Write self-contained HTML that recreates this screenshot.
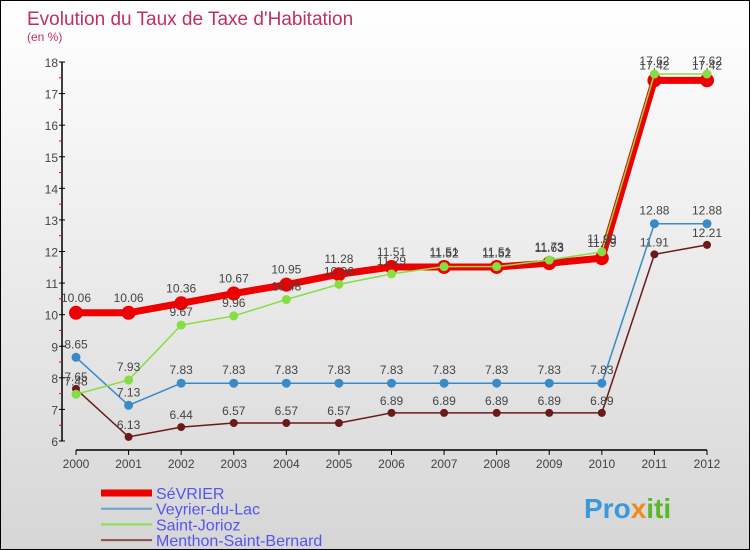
<!DOCTYPE html>
<html><head><meta charset="utf-8"><style>
body{margin:0}
#c{width:750px;height:550px;position:relative;background:linear-gradient(#ffffff,#d6d6d6);box-sizing:border-box;border:1px solid #000;font-family:"Liberation Sans",sans-serif}
</style></head><body>
<div id="c">
<svg id="s" width="748" height="548" style="position:absolute;left:0;top:0" font-family="Liberation Sans, sans-serif">
<text x="26" y="24" font-size="19" fill="#c0305f">Evolution du Taux de Taxe d'Habitation</text>
<text x="26" y="40" font-size="12" fill="#c0305f">(en %)</text>
<g id="ax"></g><g id="series"></g><g id="legend"></g>
<text x="583" y="517" font-size="28" font-weight="bold" fill="#3a9ad9">Pro<tspan fill="#f08a1a">x</tspan><tspan fill="#5cb82a">iti</tspan></text>
</svg>
</div>
<script>
const years=[2000,2001,2002,2003,2004,2005,2006,2007,2008,2009,2010,2011,2012];
const sevrier=[10.06,10.06,10.36,10.67,10.95,11.28,11.51,11.51,11.51,11.63,11.79,17.42,17.42];
const veyrier=[8.65,7.13,7.83,7.83,7.83,7.83,7.83,7.83,7.83,7.83,7.83,12.88,12.88];
const jorioz=[7.48,7.93,9.67,9.96,10.48,10.96,11.29,11.52,11.52,11.73,11.99,17.62,17.62];
const menthon=[7.65,6.13,6.44,6.57,6.57,6.57,6.89,6.89,6.89,6.89,6.89,11.91,12.21];
const yTicks=[6,7,8,9,10,11,12,13,14,15,16,17,18];
const NS="http://www.w3.org/2000/svg";
const xs=i=>75+i*(706-75)/12;
const ys=v=>440-(v-6)*(440-61)/12;
function mk(t,a,p){const e=document.createElementNS(NS,t);for(const k in a)e.setAttribute(k,a[k]);p.appendChild(e);return e;}
const ax=document.getElementById('ax');
let l=mk('line',{x1:61,y1:61,x2:61,y2:440,stroke:'#000','stroke-width':1.5},ax);


yTicks.forEach(v=>{
 mk('line',{x1:58,y1:ys(v),x2:64,y2:ys(v),stroke:'#000'},ax);
 if(v<18)mk('line',{x1:58,y1:ys(v+0.5),x2:61,y2:ys(v+0.5),stroke:'#f00'},ax);
 const t=mk('text',{x:57,y:ys(v)+5,'font-size':12,fill:'#444','text-anchor':'end'},ax);t.textContent=v;
 
 
});
l=mk('line',{x1:75,y1:449,x2:706,y2:449,stroke:'#000','stroke-width':1.5},ax);


years.forEach((y,i)=>{
 mk('line',{x1:xs(i),y1:449,x2:xs(i),y2:454,stroke:'#000'},ax);
 const t=mk('text',{x:xs(i),y:467,'font-size':12,fill:'#444','text-anchor':'middle'},ax);t.textContent=y;
 
 
});
const sg=document.getElementById('series');
function draw(vals,col,w,r,name,labOff){
 const g=mk('g',{},sg);
 
 
 mk('polyline',{points:vals.map((v,i)=>xs(i)+','+ys(v)).join(' '),fill:'none',stroke:col,'stroke-width':w,'stroke-linejoin':'round'},g);
 vals.forEach((v,i)=>{
  const c=mk('circle',{cx:xs(i),cy:ys(v),r:r,fill:col},g);
  
  
  const t=mk('text',{x:xs(i),y:ys(v)-labOff,'font-size':12,fill:'#444','text-anchor':'middle'},g);t.textContent=v;
 });
}
draw(menthon,'#6b1a1a',1.5,4,'series-menthon',8);
draw(veyrier,'#3a8ac8',1.5,4.5,'series-veyrier',9);
draw(sevrier,'#ee0000',7,7,'series-sevrier',11);
draw(jorioz,'#88dd44',1.5,4.5,'series-jorioz',9);
const lg=document.getElementById('legend');
[['SéVRIER','#ee0000',7],['Veyrier-du-Lac','#6aa2cc',2],['Saint-Jorioz','#88dd55',2],['Menthon-Saint-Bernard','#8a5050',2]].forEach((d,i)=>{
 const y=492+i*15.7;
 const g=mk('g',{},lg);
 
 
 mk('line',{x1:100,y1:y,x2:151,y2:y,stroke:d[1],'stroke-width':d[2]},g);
 const t=mk('text',{x:155,y:y+6,'font-size':16,fill:'#5555ee'},g);t.textContent=d[0];
});
</script>
</body></html>
